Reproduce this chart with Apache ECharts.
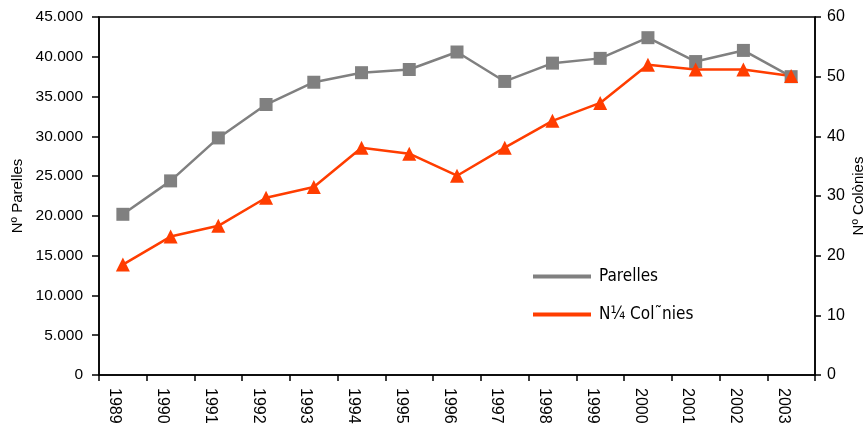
<!DOCTYPE html>
<html>
<head>
<meta charset="utf-8">
<script src="https://cdn.jsdelivr.net/npm/echarts@6/dist/echarts.min.js"></script>
<style>
html,body{margin:0;padding:0;background:#fff;}
#chart{width:866px;height:424px;}
</style>
</head>
<body>
<div id="chart"></div>
<script>
var years = ['1989','1990','1991','1992','1993','1994','1995','1996','1997','1998','1999','2000','2001','2002','2003'];
var parelles = [20200, 24400, 29800, 34000, 36800, 38000, 38400, 40600, 36900, 39200, 39800, 42400, 39400, 40800, 37500];
var colonies = [18.5, 23.2, 25, 29.7, 31.5, 38.1, 37.1, 33.4, 38.1, 42.6, 45.6, 52, 51.2, 51.2, 50.1];
var leftTicks = {min: 0, max: 45000, interval: 5000};
var rightTicks = {min: 0, max: 60, interval: 10};
var seriesNames = ['Parelles', 'N\u00BC Col\u02DCnies'];
var axisNames = ['N\u00BA Parelles', 'N\u00BA Col\u00F2nies'];

var FONT = '"Liberation Sans", Arial, sans-serif';
var NARROW = '"DejaVu Sans Condensed", "Liberation Sans", sans-serif';
function fmt(v){ return String(v).replace(/\B(?=(\d{3})+(?!\d))/g, '.'); }

var chart = echarts.init(document.getElementById('chart'), null, {renderer:'canvas'});
chart.setOption({
  animation: false,
  backgroundColor: '#fff',
  grid: {left: 99, right: 51, top: 17, bottom: 49, containLabel: false, outerBoundsMode: 'none',
         show: true, borderColor: '#000', borderWidth: 1.5, backgroundColor: 'transparent'},
  legend: {
    orient: 'vertical', left: 528, top: 263, itemGap: 21,
    icon: 'rect', itemWidth: 58, itemHeight: 4,
    textStyle: {fontFamily: NARROW, fontSize: 17, color: '#000', padding: [0,0,0,3]},
    data: seriesNames
  },
  xAxis: {
    type: 'category', data: years, boundaryGap: true,
    axisLine: {lineStyle: {color: '#000', width: 1.5}},
    axisTick: {show: true, length: 6, inside: false, lineStyle: {color: '#000', width: 1.5}},
    axisLabel: {rotate: -90, margin: 13, verticalAlign: 'top', fontFamily: FONT, fontSize: 16, color: '#000'},
    splitLine: {show: false}
  },
  yAxis: [{
    type: 'value', position: 'left', min: leftTicks.min, max: leftTicks.max, interval: leftTicks.interval,
    name: axisNames[0], nameLocation: 'middle', nameRotate: 90, nameGap: 74, nameMoveOverlap: false,
    nameTextStyle: {fontFamily: FONT, fontSize: 15, color: '#000'},
    axisLine: {show: true, lineStyle: {color: '#000', width: 1.5}},
    axisTick: {show: true, length: 7, lineStyle: {color: '#000', width: 1.5}},
    axisLabel: {margin: 16, formatter: fmt, fontFamily: FONT, fontSize: 15.5, color: '#000'},
    splitLine: {show: false}
  },{
    type: 'value', position: 'right', min: rightTicks.min, max: rightTicks.max, interval: rightTicks.interval,
    name: axisNames[1], nameLocation: 'middle', nameRotate: 90, nameGap: 36, nameMoveOverlap: false,
    nameTextStyle: {fontFamily: FONT, fontSize: 15, color: '#000'},
    axisLine: {show: true, lineStyle: {color: '#000', width: 1.5}},
    axisTick: {show: true, length: 6, lineStyle: {color: '#000', width: 1.5}},
    axisLabel: {margin: 12, fontFamily: FONT, fontSize: 16, color: '#000'},
    splitLine: {show: false}
  }],
  series: [{
    name: seriesNames[0], type: 'line', yAxisIndex: 0, data: parelles,
    symbol: 'rect', symbolSize: 13,
    itemStyle: {color: '#808080'},
    lineStyle: {color: '#808080', width: 2.5}
  },{
    name: seriesNames[1], type: 'line', yAxisIndex: 1, data: colonies,
    symbol: 'triangle', symbolSize: 14,
    itemStyle: {color: '#FF3D00'},
    lineStyle: {color: '#FF3D00', width: 2.5}
  }]
});
</script>
</body>
</html>
